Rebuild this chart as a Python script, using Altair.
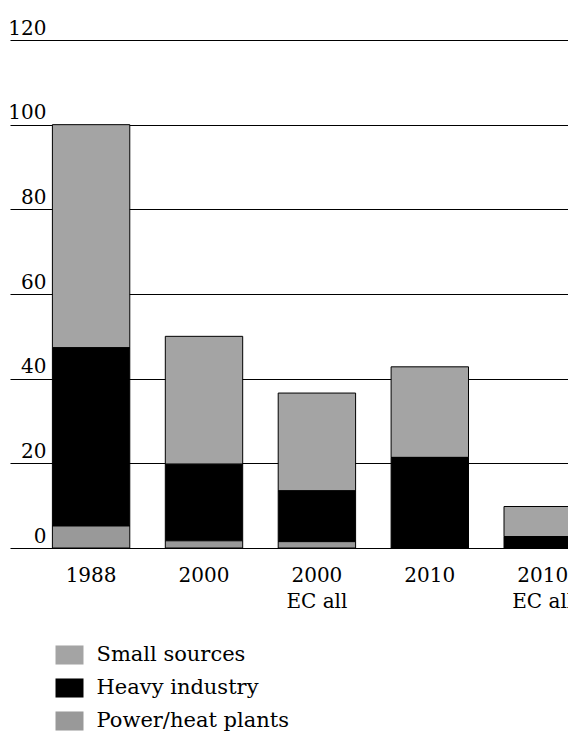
import altair as alt
import pandas as pd

# ---- data ----
categories = ["1988", "2000", "2000|EC all", "2010", "2010|EC all"]
power_heat = [5.2, 1.7, 1.5, 0.0, 0.0]
heavy_industry = [42.1, 18.1, 12.0, 21.4, 2.7]
small_sources = [52.7, 30.2, 23.1, 21.4, 7.1]
series = ["Small sources", "Heavy industry", "Power/heat plants"]
series_colors = ["#a4a4a4", "#000000", "#999999"]
stack_rank = [2, 1, 0]
y_ticks = [0, 20, 40, 60, 80, 100, 120]

rows = []
for i, c in enumerate(categories):
    for s, r, vals in zip(series, stack_rank, [small_sources, heavy_industry, power_heat]):
        rows.append({"cat": c, "series": s, "value": vals[i], "rank": r})
df = pd.DataFrame(rows)

font = "DejaVu Serif"

chart = (
    alt.Chart(df)
    .transform_filter("datum.value > 0")
    .mark_bar(stroke="black", strokeWidth=1, clip=True)
    .encode(
        x=alt.X(
            "cat:N",
            sort=categories,
            scale=alt.Scale(range=[0, 613.8], paddingInner=0.3145, paddingOuter=0.3755),
            axis=alt.Axis(
                title=None,
                labelExpr="split(datum.label, '|')",
                labelAngle=0,
                ticks=False,
                domain=False,
                labelPadding=17,
                labelFont=font,
                labelFontSize=20,
                labelColor="black",
                labelLineHeight=26,
                labelBaseline="top",
            ),
        ),
        y=alt.Y(
            "value:Q",
            stack="zero",
            scale=alt.Scale(domain=[0, 120], nice=False),
            axis=alt.Axis(
                title=None,
                values=y_ticks,
                grid=True,
                gridColor="black",
                gridWidth=1.2,
                gridOpacity=1,
                domain=False,
                ticks=False,
                tickSize=0,
                labelPadding=-36,
                labelAlign="right",
                labelBaseline="alphabetic",
                labelOffset=-6,
                labelFont=font,
                labelFontSize=20,
                labelColor="black",
                labelFlush=False,
                labelOverlap=False,
            ),
        ),
        color=alt.Color(
            "series:N",
            sort=series,
            scale=alt.Scale(domain=series, range=series_colors),
            legend=alt.Legend(
                title=None,
                orient="none",
                legendX=45.5,
                legendY=601,
                symbolType="M-1,-0.68H1V0.68H-1Z",
                symbolSize=784,
                symbolStrokeWidth=0,
                symbolOpacity=1,
                labelFont=font,
                labelFontSize=21,
                labelColor="black",
                labelOffset=13,
                labelLimit=400,
                rowPadding=9,
                padding=0,
            ),
        ),
        order=alt.Order("rank:Q", sort="ascending"),
    )
    .properties(
        width=558,
        height=508,
        autosize=alt.AutoSizeParams(type="none"),
        padding={"left": 2, "top": 32, "right": 0, "bottom": 187},
        background="white",
    )
    .configure_view(stroke=None)
)

chart.save("out.html", embed_options={"renderer": "svg", "actions": False})
